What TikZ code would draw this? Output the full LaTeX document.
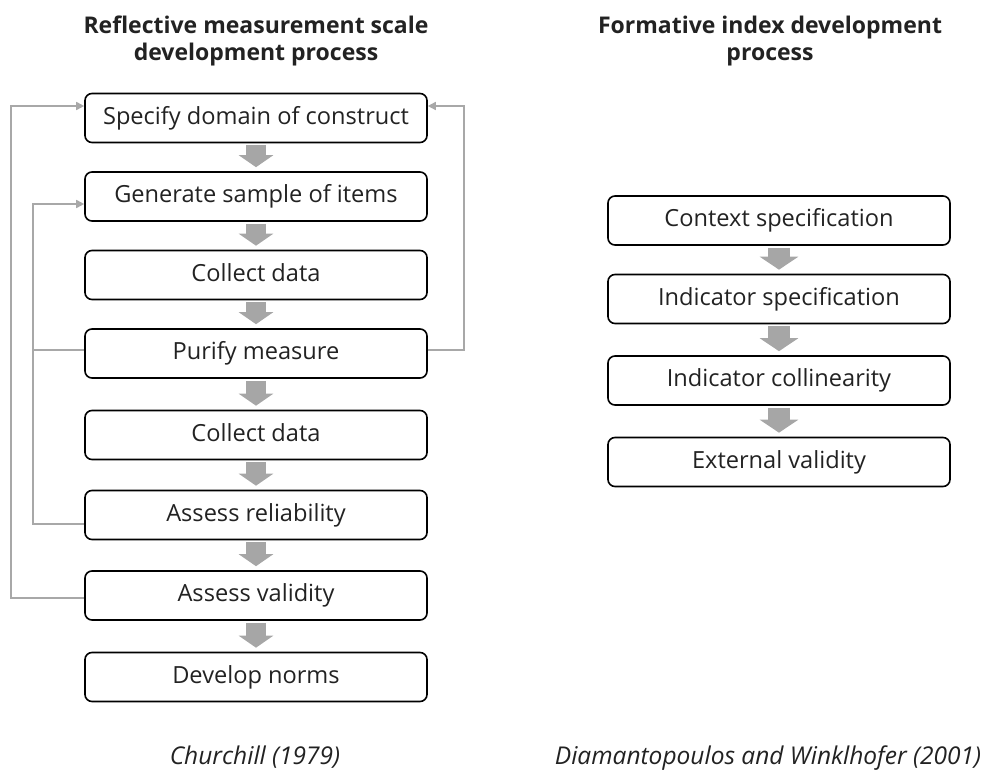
\documentclass[tikz,border=0pt]{standalone}
\usepackage{fontspec}
\setmainfont{Open Sans}
\usetikzlibrary{arrows.meta}
\definecolor{flowgray}{HTML}{A6A6A6}
\definecolor{loopgray}{HTML}{A8A8A8}
\definecolor{inktext}{HTML}{222222}

\begin{document}
\begin{tikzpicture}[x=1bp,y=-1bp,
  stepbox/.style={draw=black, line width=1.6bp, rounded corners=7bp,
    minimum width=342bp, minimum height=49bp, inner sep=0pt,
    text height=17bp, text depth=5bp, text=inktext,
    font=\fontsize{23.6bp}{27bp}\selectfont},
  blockarrow/.style={draw=flowgray, line width=20bp,
    -{Triangle[width=34bp,length=12bp]}, shorten <=2bp, shorten >=4bp},
  wideblockarrow/.style={blockarrow, line width=22bp,
    -{Triangle[width=38bp,length=13bp]}},
  loopline/.style={draw=loopgray, line width=1.6bp},
  loopin/.style={loopline, -{Triangle[width=8bp,length=8bp]}},
  heading/.style={align=center, inner sep=0pt, text=inktext,
    font=\fontsize{23bp}{27bp}\selectfont\bfseries},
  source/.style={inner sep=0pt, anchor=base, text=inktext,
    font=\fontsize{24.5bp}{28bp}\selectfont\itshape}
]
\useasboundingbox (0,0) rectangle (985,773);

% headings
\node[heading, anchor=north] (hl) at (256,16) {Reflective measurement scale\\development process};
\node[heading, anchor=north] (hr) at (770,16) {Formative index development\\process};

% reflective scale development steps
\node[stepbox] (dom) at (256,118)   {Specify domain of construct};
\node[stepbox] (gen) at (256,196.5) {Generate sample of items};
\node[stepbox] (col1) at (256,275)  {Collect data};
\node[stepbox] (pur) at (256,353.5) {Purify measure};
\node[stepbox] (col2) at (256,435)  {Collect data};
\node[stepbox] (rel) at (256,515)   {Assess reliability};
\node[stepbox] (val) at (256,595.5) {Assess validity};
\node[stepbox] (nor) at (256,677)   {Develop norms};

% formative index development steps
\node[stepbox] (ctx) at (779,220.5) {Context specification};
\node[stepbox] (ind) at (779,299)   {Indicator specification};
\node[stepbox] (cln) at (779,380.5) {Indicator collinearity};
\node[stepbox] (ext) at (779,462)   {External validity};

% forward flow
\foreach \a/\b in {dom/gen, gen/col1, col1/pur, pur/col2, col2/rel, rel/val, val/nor}
  \draw[blockarrow] (\a) -- (\b);
\foreach \a/\b in {ctx/ind, ind/cln, cln/ext}
  \draw[wideblockarrow] (\a) -- (\b);

% feedback loops
\draw[loopin] ([yshift=-2.5bp]val.west) -- ++(-73,0) |- ([yshift=12bp]dom.west);
\draw[loopin] ([yshift=-9bp]rel.west) -- ++(-51,0) |- ([yshift=-7.5bp]gen.west);
\draw[loopline] ([yshift=3.5bp]pur.west) -- ++(-51,0);
\draw[loopin] ([yshift=3.5bp]pur.east) -- ++(36,0) |- ([yshift=12bp]dom.east);

% sources
\node[source] (srcl) at (255,764) {Churchill (1979)};
\node[source] (srcr) at (768,764) {Diamantopoulos and Winklhofer (2001)};
\end{tikzpicture}
\end{document}
